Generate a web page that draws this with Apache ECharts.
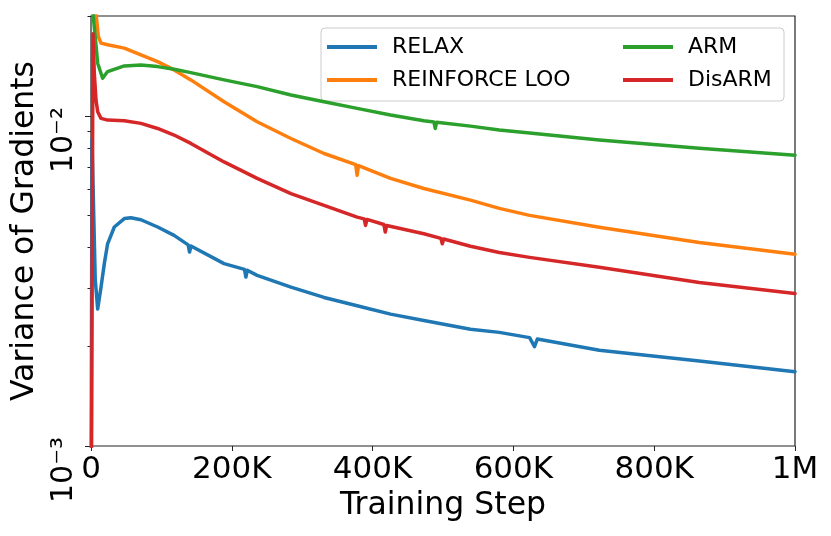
<!DOCTYPE html>
<html>
<head>
<meta charset="utf-8">
<script src="https://cdn.jsdelivr.net/npm/echarts@6/dist/echarts.min.js"></script>
<style>
  html, body { margin: 0; padding: 0; background: #fff; }
  #chart { width: 831px; height: 536px; }
</style>
</head>
<body>
<div id="chart"></div>
<script>
// values (training step, variance)
var relaxSteps = [0, 1400, 6000, 9500, 14200, 18900, 23600, 33100, 47300, 56700, 70900, 94600, 118000, 138000, 140000, 142000, 189000, 218000, 220000, 222000, 236000, 284000, 331000, 378000, 425500, 472800, 539000, 580000, 623000, 630000, 634000, 722000, 864000, 1000000];
var relaxValues = [0.0005, 0.0085, 0.0032, 0.00260, 0.00303, 0.00357, 0.00410, 0.00461, 0.00489, 0.00492, 0.00485, 0.00461, 0.00435, 0.00407, 0.00387, 0.00404, 0.00357, 0.00343, 0.00325, 0.00341, 0.00329, 0.00303, 0.00282, 0.00266, 0.00251, 0.00240, 0.00226, 0.00221, 0.00213, 0.00200, 0.00211, 0.00195, 0.00181, 0.00168];

var looSteps = [0, 7100, 10400, 14200, 23600, 47300, 70900, 94600, 118000, 141800, 189000, 236000, 284000, 331000, 376000, 378000, 380000, 425500, 472800, 539000, 580000, 623000, 722000, 864000, 1000000];
var looValues = [0.03, 0.0205, 0.01742, 0.01663, 0.01644, 0.01606, 0.01532, 0.01462, 0.01380, 0.01287, 0.01105, 0.00961, 0.00855, 0.00770, 0.00712, 0.00662, 0.00708, 0.00647, 0.00603, 0.00556, 0.00525, 0.00500, 0.00460, 0.00414, 0.00381];

var armSteps = [0, 2800, 9500, 16500, 23600, 47300, 70900, 94600, 118000, 141800, 189000, 236000, 284000, 331000, 378000, 425500, 472800, 487000, 489000, 491000, 539000, 580000, 623000, 722000, 864000, 1000000];
var armValues = [0.025, 0.0205, 0.01446, 0.01302, 0.01364, 0.01419, 0.01429, 0.01412, 0.01386, 0.01354, 0.01287, 0.01228, 0.01158, 0.01105, 0.01055, 0.01007, 0.00968, 0.00960, 0.00917, 0.00958, 0.00932, 0.00907, 0.00888, 0.00846, 0.00799, 0.00761];

var disarmSteps = [0, 2800, 4700, 7100, 9500, 14200, 23600, 47300, 70900, 94600, 118000, 141800, 189000, 236000, 284000, 331000, 378000, 388000, 390000, 392000, 416000, 418000, 420000, 472800, 497000, 499000, 501000, 539000, 580000, 623000, 722000, 864000, 1000000];
var disarmValues = [0.0003, 0.01775, 0.01348, 0.01118, 0.01031, 0.00984, 0.00972, 0.00968, 0.00950, 0.00917, 0.00876, 0.00826, 0.00726, 0.00647, 0.00582, 0.00536, 0.00494, 0.00488, 0.00466, 0.00486, 0.00469, 0.00445, 0.00466, 0.00440, 0.00426, 0.00410, 0.00424, 0.00403, 0.00386, 0.00373, 0.00348, 0.00313, 0.00290];

var seriesNames = ['RELAX', 'REINFORCE LOO', 'ARM', 'DisARM'];
var seriesColors = ['#1f77b4', '#ff7f0e', '#2ca02c', '#d62728'];

// ticks
var xTickLabels = ['0', '200K', '400K', '600K', '800K', '1M'];
var yMajorTicks = [0.001, 0.01];
var yTickLabels = ['10\u207b\u00b3', '10\u207b\u00b2'];
var yMinorTicks = [0.002, 0.003, 0.004, 0.005, 0.006, 0.007, 0.008, 0.009, 0.02];

var FONT = 'DejaVu Sans';

function pairs(xs, ys) {
  var out = [];
  for (var i = 0; i < xs.length; i++) { out.push([xs[i], ys[i]]); }
  return out;
}

var allSteps = [relaxSteps, looSteps, armSteps, disarmSteps];
var allValues = [relaxValues, looValues, armValues, disarmValues];

var series = seriesNames.map(function (name, i) {
  return {
    name: name,
    type: 'line',
    data: pairs(allSteps[i], allValues[i]),
    showSymbol: false,
    clip: true,
    lineStyle: { width: 3.5, color: seriesColors[i], join: 'round', cap: 'round' },
    itemStyle: { color: seriesColors[i] }
  };
});

var chart = echarts.init(document.getElementById('chart'));

var legendText = { fontFamily: FONT, fontSize: 22, color: '#000', lineHeight: 24, padding: [0, 0, 0, 10] };

var option = {
  animation: false,
  backgroundColor: '#fff',
  grid: {
    left: 91, right: 36, top: 16, bottom: 90,
    show: true, borderColor: '#222', borderWidth: 1.2
  },
  graphic: [{
    type: 'rect',
    z: 3,
    shape: { x: 321, y: 28, width: 463, height: 73, r: 4 },
    style: { fill: 'rgba(255,255,255,0.8)', stroke: '#cccccc', lineWidth: 1 }
  }],
  legend: [{
    data: ['RELAX', 'REINFORCE LOO'],
    orient: 'vertical',
    left: 327, top: 35,
    padding: 0, itemGap: 9,
    icon: 'rect', itemWidth: 50, itemHeight: 4,
    textStyle: legendText
  }, {
    data: ['ARM', 'DisARM'],
    orient: 'vertical',
    left: 623, top: 35,
    padding: 0, itemGap: 9,
    icon: 'rect', itemWidth: 50, itemHeight: 4,
    textStyle: legendText
  }],
  xAxis: {
    type: 'value',
    min: 0, max: 1000000, interval: 200000,
    name: 'Training Step',
    nameLocation: 'middle',
    nameGap: 42,
    nameTextStyle: { fontFamily: FONT, fontSize: 31.5, color: '#000' },
    axisLine: { show: false },
    axisTick: { show: true, length: 5, lineStyle: { color: '#222' } },
    splitLine: { show: false },
    axisLabel: {
      margin: 8,
      fontFamily: FONT, fontSize: 31, color: '#000',
      formatter: function (v) { return xTickLabels[Math.round(v / 200000)]; }
    }
  },
  yAxis: [{
    type: 'log', logBase: 10,
    min: 0.001, max: 0.0201,
    name: 'Variance of Gradients',
    nameLocation: 'middle',
    nameGap: 49,
    nameTextStyle: { fontFamily: FONT, fontSize: 31.5, color: '#000' },
    axisLine: { show: false },
    splitLine: { show: false },
    axisTick: { show: true, length: 6, lineStyle: { color: '#222' }, customValues: yMajorTicks },
    axisLabel: {
      customValues: yMajorTicks,
      rotate: 90, align: 'center', verticalAlign: 'bottom',
      padding: [0, 48, 0, 0],
      margin: 12,
      fontFamily: FONT, fontSize: 30, color: '#000',
      formatter: function (v) {
        var i = Math.abs(v - 0.01) < 1e-6 ? 1 : 0;
        return yTickLabels[i];
      }
    }
  }, {
    // minor log ticks only
    type: 'log', logBase: 10,
    min: 0.001, max: 0.0201,
    position: 'left',
    axisLine: { show: false },
    splitLine: { show: false },
    axisLabel: { show: false },
    axisTick: { show: true, length: 3.5, lineStyle: { color: '#222' }, customValues: yMinorTicks }
  }],
  series: series
};

chart.setOption(option);
</script>
</body>
</html>
